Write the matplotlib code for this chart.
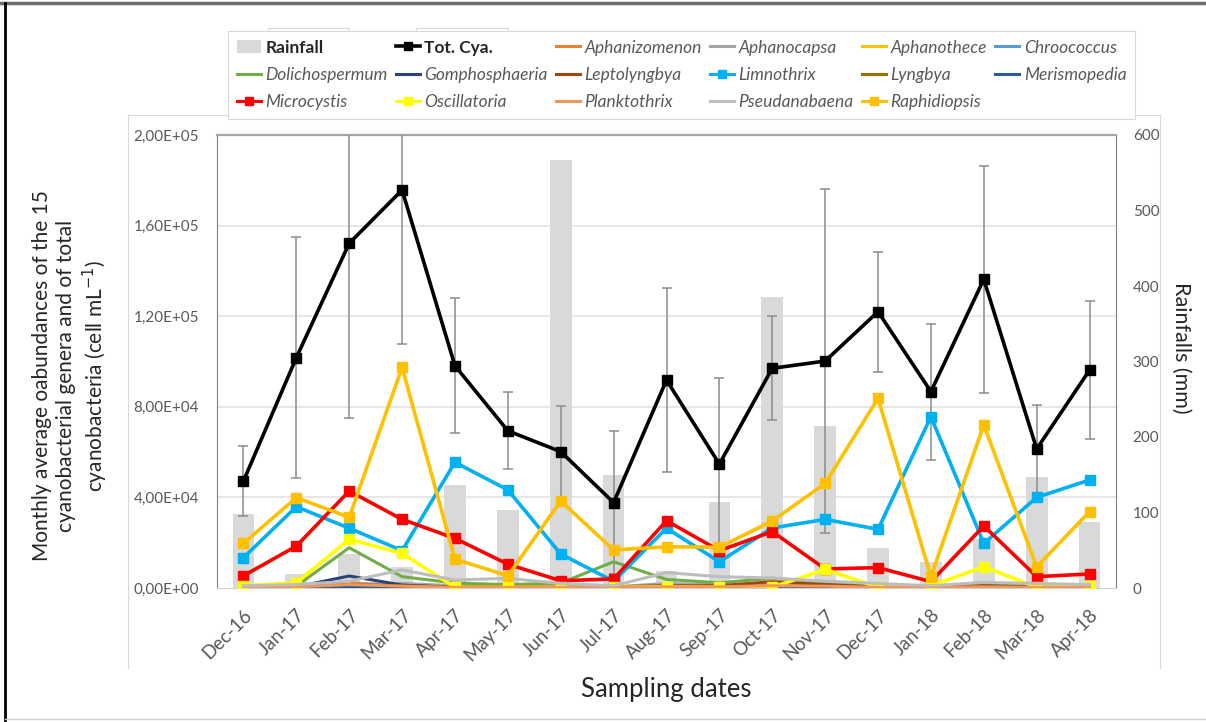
import numpy as np
import matplotlib.pyplot as plt
from matplotlib.lines import Line2D
from matplotlib.patches import Patch

plt.rcParams['font.family'] = ['Lato', 'DejaVu Sans']

# ---- data ----
months = ["Dec-16", "Jan-17", "Feb-17", "Mar-17", "Apr-17", "May-17", "Jun-17",
          "Jul-17", "Aug-17", "Sep-17", "Oct-17", "Nov-17", "Dec-17", "Jan-18",
          "Feb-18", "Mar-18", "Apr-18"]

rainfall_mm = [98, 18, 45, 28, 136, 103, 567, 150, 22, 114, 386, 214, 53, 34, 65, 147, 88]

# cell mL-1 (x 1000)
tot_cya = [47.2, 101.7, 152.2, 175.7, 98.1, 69.4, 60.2, 37.7, 91.8, 54.7,
           97.0, 100.2, 122.0, 86.7, 136.3, 61.4, 96.2]
tot_cya_sd = [15.5, 53.3, 77.0, 68.0, 29.8, 17.0, 20.0, 31.7, 40.5, 38.0,
              23.0, 76.0, 26.5, 30.0, 50.0, 19.5, 30.5]

aphanizomenon = [0.8, 0.8, 2.3, 1.0, 0.5, 0.5, 0.5, 0.5, 1.0, 1.0, 1.5, 1.0, 0.5, 0.3, 1.0, 0.5, 0.5]
aphanocapsa = [0.5, 0.5, 1.5, 2.0, 1.0, 1.0, 1.0, 0.5, 2.0, 1.5, 1.0, 1.0, 0.5, 0.5, 1.0, 0.5, 0.5]
aphanothece = [0.2, 0.2, 0.3, 0.2, 0.1, 0.1, 0.1, 0.1, 0.2, 0.1, 0.2, 0.1, 0.1, 0.1, 0.2, 0.1, 0.1]
chroococcus = [0.1, 0.1, 0.3, 0.2, 0.1, 0.1, 0.1, 0.1, 0.1, 0.1, 0.1, 0.1, 0.1, 0.1, 0.1, 0.1, 0.1]
dolichospermum = [0.5, 0.8, 17.8, 5.0, 2.2, 1.5, 2.2, 11.6, 3.8, 2.3, 4.3, 2.5, 0.8, 0.5, 2.0, 1.0, 1.0]
gomphosphaeria = [0.3, 0.5, 5.3, 1.3, 0.2, 0.1, 0.1, 0.1, 0.1, 0.1, 0.1, 0.1, 0.1, 0.1, 0.1, 0.1, 0.1]
leptolyngbya = [0.5, 0.5, 1.5, 1.0, 0.5, 0.5, 0.5, 0.5, 1.0, 1.0, 2.8, 1.5, 0.5, 0.3, 1.0, 0.5, 0.5]
limnothrix = [13.4, 35.9, 26.4, 16.5, 55.5, 43.3, 15.0, 3.0, 26.4, 11.6, 26.5, 30.3, 25.9, 75.6, 19.7, 40.0, 47.7]
lyngbya = [0.1, 0.1, 0.2, 0.1, 0.1, 0.1, 0.1, 0.1, 0.1, 0.1, 0.1, 0.1, 0.1, 0.1, 0.1, 0.1, 0.1]
merismopedia = [0.2, 0.2, 0.5, 0.3, 0.1, 0.1, 0.1, 0.1, 0.1, 0.1, 0.1, 0.1, 0.1, 0.1, 0.1, 0.1, 0.1]
microcystis = [5.4, 18.5, 42.8, 30.3, 21.9, 10.5, 3.2, 4.0, 29.7, 16.5, 24.9, 8.4, 9.0, 2.8, 27.4, 5.0, 6.2]
oscillatoria = [1.0, 2.3, 21.5, 15.3, 0.3, 0.3, 0.3, 0.3, 0.5, 0.3, 0.3, 8.2, 0.3, 1.0, 9.4, 0.3, 1.0]
planktothrix = [0.5, 0.5, 1.5, 0.8, 0.3, 0.3, 0.3, 0.3, 0.5, 0.5, 1.0, 0.8, 0.3, 0.3, 0.5, 0.3, 0.3]
pseudanabaena = [1.0, 1.5, 3.0, 8.0, 3.5, 4.3, 2.0, 1.0, 6.8, 5.0, 4.4, 3.0, 2.0, 1.0, 2.5, 2.0, 1.5]
raphidiopsis = [19.7, 39.9, 31.2, 97.4, 12.7, 5.4, 38.4, 16.8, 18.2, 18.0, 29.6, 46.2, 83.7, 5.0, 72.0, 9.4, 33.7]

# (name, values, colour, marker)
genera = [
    ("Aphanizomenon", aphanizomenon, "#ED7D31", None),
    ("Aphanocapsa", aphanocapsa, "#A5A5A5", None),
    ("Aphanothece", aphanothece, "#FFC000", None),
    ("Chroococcus", chroococcus, "#5B9BD5", None),
    ("Dolichospermum", dolichospermum, "#70AD47", None),
    ("Gomphosphaeria", gomphosphaeria, "#264478", None),
    ("Leptolyngbya", leptolyngbya, "#9E480E", None),
    ("Limnothrix", limnothrix, "#00B0F0", "s"),
    ("Lyngbya", lyngbya, "#997300", None),
    ("Merismopedia", merismopedia, "#255E91", None),
    ("Microcystis", microcystis, "#FF0000", "s"),
    ("Oscillatoria", oscillatoria, "#FFFF00", "s"),
    ("Planktothrix", planktothrix, "#F1975A", None),
    ("Pseudanabaena", pseudanabaena, "#BDBDBD", None),
    ("Raphidiopsis", raphidiopsis, "#FFC000", "s"),
]

W, H = 1206, 722
fig = plt.figure(figsize=(W / 100, H / 100), dpi=100)


def fx(px):
    return px / W


def fy(py):
    return 1 - py / H


ax = fig.add_axes([fx(217), fy(588), fx(1116) - fx(217), fy(135) - fy(588)])
ax2 = ax.twinx()
ax.set_zorder(2)
ax2.set_zorder(1)
ax.patch.set_visible(False)

x = np.arange(len(months))
scale = 1000.0
ymax_left, ymax_right = 2e5, 600

# bars (rainfall) on the right axis
ax2.bar(x, rainfall_mm, width=0.41, color="#D9D9D9", zorder=2)
ax2.set_ylim(0, ymax_right)
ax.set_ylim(0, ymax_left)
ax.set_xlim(-0.5, len(months) - 0.5)

left_ticks = np.arange(0, ymax_left + 1, 4e4)
for t in left_ticks[1:-1]:
    ax2.axhline(t / ymax_left * ymax_right, color="#E3E3E3", lw=1.2, zorder=1)

# total cyanobacteria with error bars
ax.errorbar(x, np.array(tot_cya) * scale, yerr=np.array(tot_cya_sd) * scale,
            color="black", ecolor="#8C8C8C", elinewidth=1.1, capsize=3.5,
            capthick=1.1, lw=2.6, marker="s", ms=7, zorder=3)

z = 4
for name, vals, col, mk in genera:
    ax.plot(x, np.array(vals) * scale, color=col, lw=2.6 if mk else 2.2,
            marker=mk, ms=7, zorder=z)
    z += 1

# axes styling
ax.set_yticks(left_ticks)
ax.set_yticklabels([f"{v:.2E}".replace(".", ",") for v in left_ticks])
ax2.set_yticks(np.arange(0, ymax_right + 1, 100))
ax.set_xticks(x)
ax.set_xticklabels(months, rotation=45, ha="right", rotation_mode="anchor")

ax.tick_params(axis="y", length=0, labelsize=11, labelcolor="#595959", pad=13)
ax.tick_params(axis="x", length=0, labelsize=13.5, labelcolor="#595959", pad=13)
ax2.tick_params(axis="y", length=0, labelsize=11, labelcolor="#595959", pad=12)

for s in ["top", "bottom", "left", "right"]:
    ax2.spines[s].set_visible(False)
ax2.spines["right"].set_visible(True)
ax2.spines["right"].set_color("#7F7F7F")
ax.spines["right"].set_visible(False)
ax.spines["left"].set_color("#7F7F7F")
ax.spines["top"].set_color("#A6A6A6")
ax.spines["top"].set_linewidth(1.6)
ax.spines["bottom"].set_color("#D0D0D0")

# axis titles
fig.text(fx(71), fy(376), "Monthly average oabundances of the 15\ncyanobacterial genera and of total\n"
         "cyanobacteria (cell mL$^{-1}$)", rotation=90, ha="center", va="center",
         multialignment="center", fontsize=15, color="#262626", linespacing=1.22)
fig.text(fx(1181), fy(348), "Rainfalls (mm)", rotation=270, ha="center", va="center",
         fontsize=15.5, color="#262626")
fig.text(fx(666), fy(690), "Sampling dates", ha="center", va="center",
         fontsize=18.5, color="#262626")

# legend, filled row by row like the original
h_rain = Patch(facecolor="#D9D9D9", edgecolor="none")
h_tot = Line2D([], [], color="black", lw=2.6, marker="s", ms=6)
entries = [(h_rain, "Rainfall"), (h_tot, "Tot. Cya.")]
for name, vals, col, mk in genera:
    entries.append((Line2D([], [], color=col, lw=2.2, marker=mk, ms=6), name))
ncol = 6
rows = [entries[i:i + ncol] for i in range(0, len(entries), ncol)]
ordered = []
for j in range(ncol):
    for r in rows:
        if j < len(r):
            ordered.append(r[j])
leg = fig.legend([e[0] for e in ordered], [e[1] for e in ordered], ncol=ncol,
                 mode="expand", loc="center",
                 bbox_to_anchor=(fx(228), fy(115), fx(1135) - fx(228), fy(35) - fy(115)),
                 borderaxespad=0, fontsize=12.5, handlelength=1.4, handletextpad=0.25,
                 labelspacing=0.66, borderpad=0.5, fancybox=False, framealpha=1,
                 edgecolor="#D9D9D9")
leg.get_frame().set_linewidth(0.8)
for t in leg.get_texts():
    if t.get_text() in ("Rainfall", "Tot. Cya."):
        t.set_fontweight("bold")
        t.set_color("#262626")
    else:
        t.set_fontstyle("italic")
        t.set_color("#595959")

# chart-area / border lines around the plot
def fline(xs, ys, **kw):
    fig.add_artist(Line2D([fx(v) for v in xs], [fy(v) for v in ys],
                          transform=fig.transFigure, **kw))


fline([128, 128], [115, 668], color="#D9D9D9", lw=0.8)
fline([1160, 1160], [115, 668], color="#D9D9D9", lw=0.8)
fline([128, 228], [115, 115], color="#D9D9D9", lw=0.8)
fline([1135, 1160], [115, 115], color="#D9D9D9", lw=0.8)
fline([268, 268, 349, 349], [35, 28, 28, 35], color="#D9D9D9", lw=0.8)
fline([416, 416, 508, 508], [35, 28, 28, 35], color="#D9D9D9", lw=0.8)
fline([0, W], [3, 3], color="#6E6E6E", lw=2.5)
fline([5, 5], [3, H], color="black", lw=2.0)
fline([5, W], [719, 719], color="#D0D0D0", lw=1.0)

fig.savefig("out.png", dpi=100)
